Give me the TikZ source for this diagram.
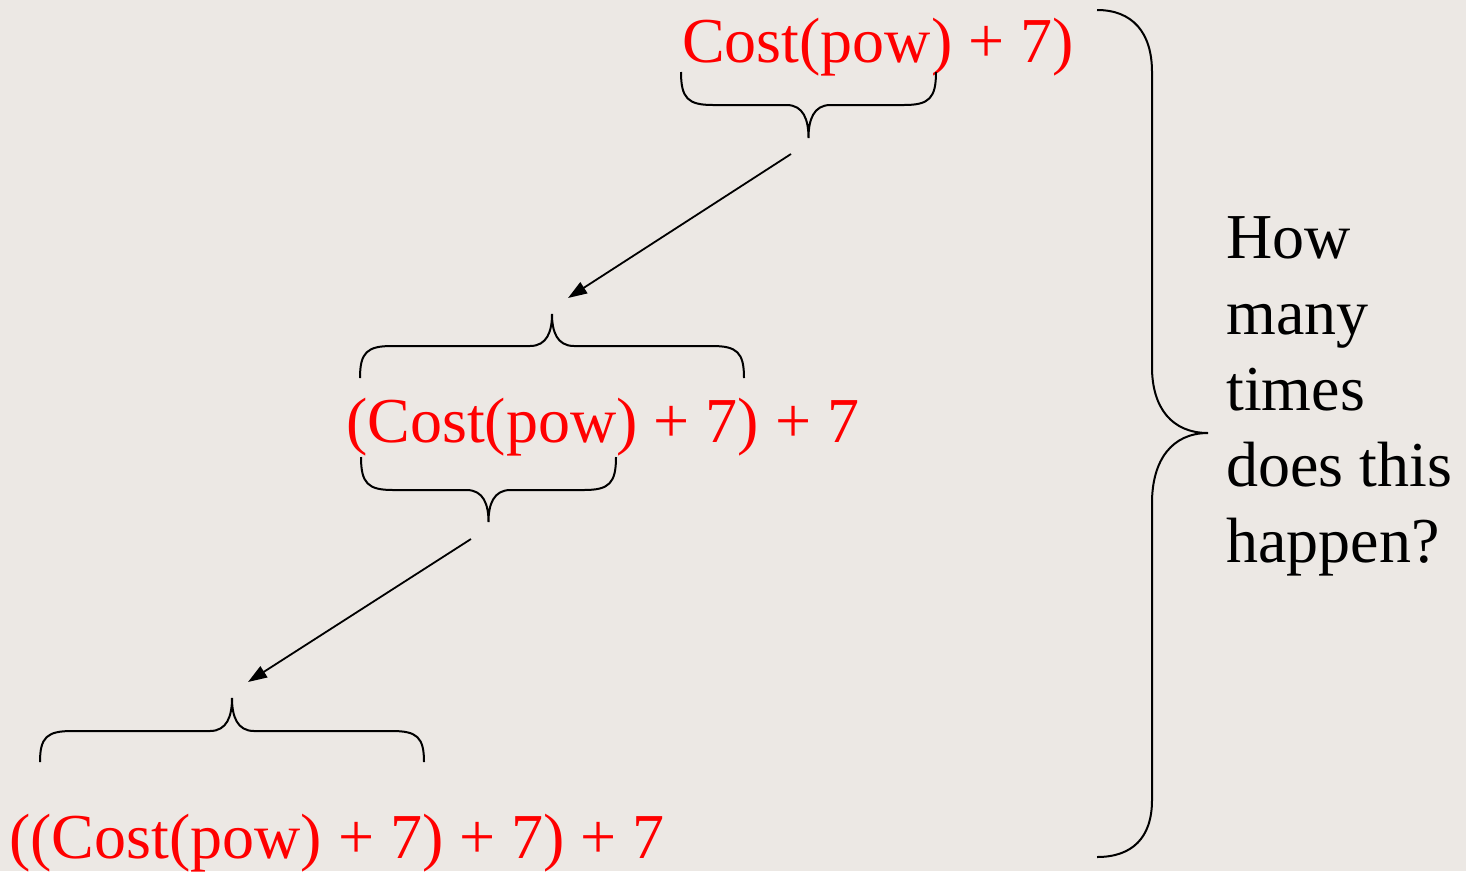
\documentclass[tikz,border=0pt]{standalone}
\usepackage{fontspec}
\setmainfont{Liberation Serif}
\usetikzlibrary{arrows.meta}
\definecolor{bgcol}{RGB}{236,232,228}
\definecolor{txtred}{RGB}{255,0,0}
\newcommand{\hbr}[5]{%
  \pgfmathsetmacro\xm{(#1+#2)/2}%
  \pgfmathsetmacro\ya{#3+0.8*(#4-#3)}%
  \pgfmathsetmacro\yc{#4+0.45*(#5-#4)}%
  \draw[brc] (#1,#3) .. controls (#1,\ya) and (#1+7,#4) .. (#1+32,#4)
    -- (\xm-22,#4) .. controls (\xm-5,#4) and (\xm,\yc) .. (\xm,#5)
    .. controls (\xm,\yc) and (\xm+5,#4) .. (\xm+22,#4)
    -- (#2-32,#4) .. controls (#2-7,#4) and (#2,\ya) .. (#2,#3);}
\begin{document}
\begin{tikzpicture}[x=1pt,y=-1pt,
  brc/.style={draw=black,line width=2pt},
  arr/.style={draw=black,line width=1.8pt,-{Triangle[length=19pt,width=13pt]}},
  redtxt/.style={text=txtred,inner sep=0pt,anchor=base west,font=\fontsize{64}{76}\selectfont},
  blktxt/.style={text=black,inner sep=0pt,anchor=north west,align=left,font=\fontsize{64}{76}\selectfont}]
\fill[bgcol] (0,0) rectangle (1466,871);
\useasboundingbox (0,0) rectangle (1466,871);
% texts
\node[redtxt] (e1) at (682,62) {Cost(pow) + 7)};
\node[redtxt] (e2) at (346,442) {(Cost(pow) + 7) + 7};
\node[redtxt] (e3) at (9,858) {((Cost(pow) + 7) + 7) + 7};
\node[blktxt] (q) at (1226,216) {How\\many\\times\\does this\\happen?};
% braces
\hbr{681}{936}{72}{105}{138}
\hbr{360}{744}{378}{346}{314}
\hbr{361}{616}{457}{490}{522}
\hbr{40}{424}{762}{731}{698}
\draw[brc] (1097,10) .. controls (1132,10) and (1152,32) .. (1152,72)
  -- (1152,367) .. controls (1152,408) and (1172,433) .. (1208,433)
  .. controls (1172,433) and (1152,460) .. (1152,503)
  -- (1152,800) .. controls (1152,838) and (1132,857) .. (1097,857);
% arrows
\coordinate (a1s) at (791,154);
\coordinate (a1e) at (568,298);
\coordinate (a2s) at (471,539);
\coordinate (a2e) at (248,682);
\draw[arr] (a1s) -- (a1e);
\draw[arr] (a2s) -- (a2e);
\end{tikzpicture}
\end{document}
